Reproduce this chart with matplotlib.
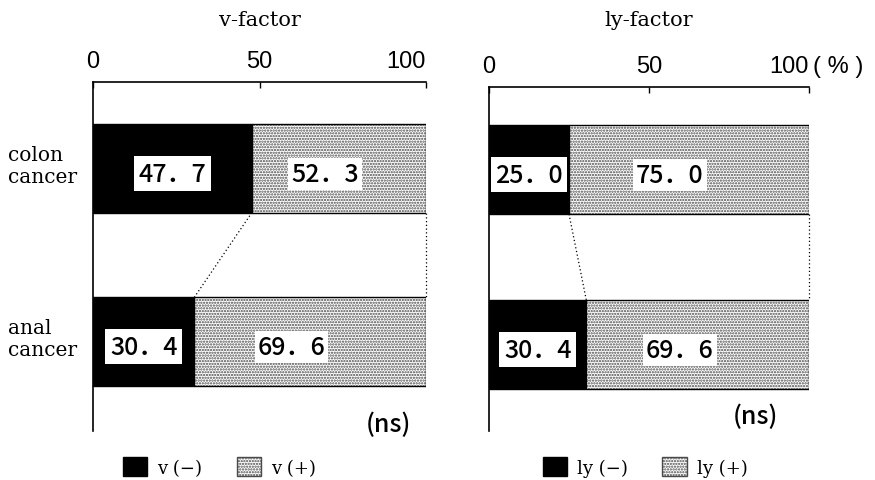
import matplotlib
matplotlib.use("Agg")
import matplotlib.pyplot as plt
from matplotlib.patches import Patch

# ----------------------------------------
#  Data
# ----------------------------------------
GROUPS = ["colon\ncancer", "anal\ncancer"]
V_NEG = [47.7, 30.4]          # v(-) %
V_POS = [52.3, 69.6]          # v(+) %
LY_NEG = [25.0, 30.4]         # ly(-) %
LY_POS = [75.0, 69.6]         # ly(+) %
TICKS = [0, 50, 100]
TICK_LABELS = ["0", "50", "100"]

SERIF = "DejaVu Serif"
NUM_FONT = ["Noto Sans CJK JP", "DejaVu Sans"]
TICK_FONT = "Liberation Sans"
DOT_GREY = "#4a4a4a"

plt.rcParams["hatch.linewidth"] = 1.1
BAR_H = 0.51


def fmt(v):
    # japanese style number with a wide full stop
    return f"{v:.1f}".replace(".", "．")


def draw_panel(ax, neg, pos, ylim, title, leg_labels, leg_x, show_groups, ns_xy):
    y = [0, 1]
    ax.barh(y, neg, height=BAR_H, color="black", edgecolor="black", linewidth=1)
    # stipple first, then black outline on top
    ax.barh(y, pos, left=neg, height=BAR_H, color="white", edgecolor=DOT_GREY,
            hatch="......", linewidth=0)
    ax.barh(y, pos, left=neg, height=BAR_H, fill=False, edgecolor="black", linewidth=1)

    # connector between the two bars
    y_top = BAR_H / 2
    y_bot = 1 - BAR_H / 2
    ax.plot([neg[0], neg[1]], [y_top, y_bot], color="black", linestyle=(0, (1, 2)),
            linewidth=0.9)
    ax.plot([100, 100], [y_top, y_bot], color="black", linestyle=(0, (1, 2)),
            linewidth=0.9, clip_on=False)

    for i in range(2):
        ax.text(neg[i] / 2, y[i] + 0.03, fmt(neg[i]), ha="center", va="center",
                fontsize=18, family=NUM_FONT, weight="medium",
                bbox=dict(boxstyle="square,pad=0.18", fc="white", ec="none"))
        ax.text(neg[i] + pos[i] * 0.42, y[i] + 0.03, fmt(pos[i]), ha="center", va="center",
                fontsize=18, family=NUM_FONT, weight="medium",
                bbox=dict(boxstyle="square,pad=0.12", fc="white", ec="none"))

    ax.set_xlim(0, 100)
    ax.set_ylim(*ylim)
    ax.spines["right"].set_visible(False)
    ax.spines["bottom"].set_visible(False)
    ax.spines["left"].set_linewidth(1.2)
    ax.spines["top"].set_linewidth(1.2)
    ax.xaxis.tick_top()
    ax.set_xticks(TICKS)
    ax.set_xticklabels(TICK_LABELS, fontsize=17, family=TICK_FONT)
    ax.tick_params(axis="x", direction="in", length=4, width=1, pad=7)
    ax.get_xticklabels()[-1].set_ha("right")
    ax.set_yticks([])

    if show_groups:
        for i, g in enumerate(GROUPS):
            ax.text(-25.5, y[i] - 0.02, g, ha="left", va="center", fontsize=14.5,
                    family=SERIF)

    ax.text(ns_xy[0], ns_xy[1], "(ns)", ha="right", va="center", fontsize=18,
            family=NUM_FONT, weight="medium")

    pos_ax = ax.get_position()
    fig.text(pos_ax.x0 + pos_ax.width / 2, 1 - 20 / 481, title, ha="center", va="center",
             fontsize=15, family=SERIF)

    handles = [Patch(facecolor="black", edgecolor="black"),
               Patch(facecolor="white", edgecolor=DOT_GREY, hatch="......")]
    ax.legend(handles, leg_labels, ncol=2, frameon=False, loc="center left",
              bbox_to_anchor=(leg_x, 1 - 468 / 481), bbox_transform=fig.transFigure,
              borderpad=0, borderaxespad=0, handlelength=1.35, handleheight=1.2,
              handletextpad=0.55, columnspacing=1.9,
              prop={"family": SERIF, "size": 13})


fig = plt.figure(figsize=(8.75, 4.81), dpi=100)
W, H = 875, 481
ax1 = fig.add_axes([93 / W, 1 - 432 / H, 333 / W, 349 / H])
ax2 = fig.add_axes([489 / W, 1 - 432 / H, 320 / W, 344 / H])

draw_panel(ax1, V_NEG, V_POS, (1.517, -0.5), "v-factor", ["v (−)", "v (+)"],
           123 / W, True, (95.5, 1.477))
draw_panel(ax2, LY_NEG, LY_POS, (1.494, -0.471), "ly-factor", ["ly (−)", "ly (+)"],
           543 / W, False, (90.5, 1.41))

ax2.annotate("( % )", xy=(100, 1), xycoords=("data", "axes fraction"),
             xytext=(3, 7), textcoords="offset points", ha="left", va="bottom",
             fontsize=17, family=TICK_FONT)

fig.savefig("out.png", dpi=100)
